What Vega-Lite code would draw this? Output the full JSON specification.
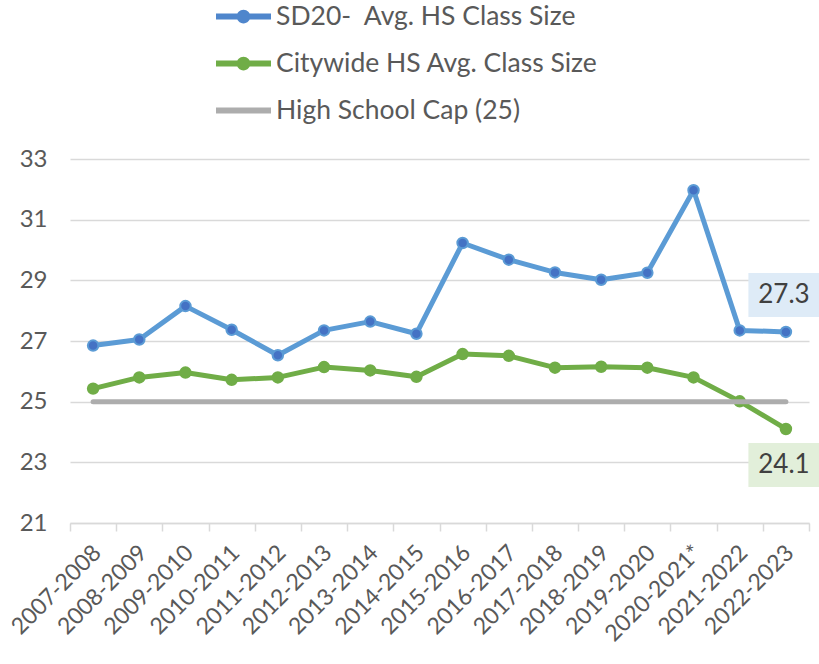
{
  "$schema": "https://vega.github.io/schema/vega-lite/v6.json",
  "width": 739,
  "height": 364,
  "autosize": {"type": "none"},
  "padding": {"left": 70, "top": 159, "right": 10, "bottom": 141},
  "background": "white",
  "config": {"view": {"stroke": null}, "font": "Lato"},
  "datasets": {
    "series": [
      {"year": "2007-2008", "series": "SD20- \u00a0Avg. HS Class Size", "value": 26.85},
      {"year": "2008-2009", "series": "SD20- \u00a0Avg. HS Class Size", "value": 27.05},
      {"year": "2009-2010", "series": "SD20- \u00a0Avg. HS Class Size", "value": 28.15},
      {"year": "2010-2011", "series": "SD20- \u00a0Avg. HS Class Size", "value": 27.37},
      {"year": "2011-2012", "series": "SD20- \u00a0Avg. HS Class Size", "value": 26.53},
      {"year": "2012-2013", "series": "SD20- \u00a0Avg. HS Class Size", "value": 27.35},
      {"year": "2013-2014", "series": "SD20- \u00a0Avg. HS Class Size", "value": 27.64},
      {"year": "2014-2015", "series": "SD20- \u00a0Avg. HS Class Size", "value": 27.24},
      {"year": "2015-2016", "series": "SD20- \u00a0Avg. HS Class Size", "value": 30.23},
      {"year": "2016-2017", "series": "SD20- \u00a0Avg. HS Class Size", "value": 29.68},
      {"year": "2017-2018", "series": "SD20- \u00a0Avg. HS Class Size", "value": 29.26},
      {"year": "2018-2019", "series": "SD20- \u00a0Avg. HS Class Size", "value": 29.02},
      {"year": "2019-2020", "series": "SD20- \u00a0Avg. HS Class Size", "value": 29.25},
      {"year": "2020-2021*", "series": "SD20- \u00a0Avg. HS Class Size", "value": 31.97},
      {"year": "2021-2022", "series": "SD20- \u00a0Avg. HS Class Size", "value": 27.35},
      {"year": "2022-2023", "series": "SD20- \u00a0Avg. HS Class Size", "value": 27.3},
      {"year": "2007-2008", "series": "Citywide HS Avg. Class Size", "value": 25.43},
      {"year": "2008-2009", "series": "Citywide HS Avg. Class Size", "value": 25.8},
      {"year": "2009-2010", "series": "Citywide HS Avg. Class Size", "value": 25.96},
      {"year": "2010-2011", "series": "Citywide HS Avg. Class Size", "value": 25.72},
      {"year": "2011-2012", "series": "Citywide HS Avg. Class Size", "value": 25.8},
      {"year": "2012-2013", "series": "Citywide HS Avg. Class Size", "value": 26.14},
      {"year": "2013-2014", "series": "Citywide HS Avg. Class Size", "value": 26.03},
      {"year": "2014-2015", "series": "Citywide HS Avg. Class Size", "value": 25.82},
      {"year": "2015-2016", "series": "Citywide HS Avg. Class Size", "value": 26.57},
      {"year": "2016-2017", "series": "Citywide HS Avg. Class Size", "value": 26.51},
      {"year": "2017-2018", "series": "Citywide HS Avg. Class Size", "value": 26.12},
      {"year": "2018-2019", "series": "Citywide HS Avg. Class Size", "value": 26.15},
      {"year": "2019-2020", "series": "Citywide HS Avg. Class Size", "value": 26.12},
      {"year": "2020-2021*", "series": "Citywide HS Avg. Class Size", "value": 25.8},
      {"year": "2021-2022", "series": "Citywide HS Avg. Class Size", "value": 25.01},
      {"year": "2022-2023", "series": "Citywide HS Avg. Class Size", "value": 24.1},
      {"year": "2007-2008", "series": "High School Cap (25)", "value": 25},
      {"year": "2008-2009", "series": "High School Cap (25)", "value": 25},
      {"year": "2009-2010", "series": "High School Cap (25)", "value": 25},
      {"year": "2010-2011", "series": "High School Cap (25)", "value": 25},
      {"year": "2011-2012", "series": "High School Cap (25)", "value": 25},
      {"year": "2012-2013", "series": "High School Cap (25)", "value": 25},
      {"year": "2013-2014", "series": "High School Cap (25)", "value": 25},
      {"year": "2014-2015", "series": "High School Cap (25)", "value": 25},
      {"year": "2015-2016", "series": "High School Cap (25)", "value": 25},
      {"year": "2016-2017", "series": "High School Cap (25)", "value": 25},
      {"year": "2017-2018", "series": "High School Cap (25)", "value": 25},
      {"year": "2018-2019", "series": "High School Cap (25)", "value": 25},
      {"year": "2019-2020", "series": "High School Cap (25)", "value": 25},
      {"year": "2020-2021*", "series": "High School Cap (25)", "value": 25},
      {"year": "2021-2022", "series": "High School Cap (25)", "value": 25},
      {"year": "2022-2023", "series": "High School Cap (25)", "value": 25}
    ],
    "labels": [
      {"year": "2022-2023", "series": "SD20- \u00a0Avg. HS Class Size", "value": 27.3, "label": "27.3"},
      {"year": "2022-2023", "series": "Citywide HS Avg. Class Size", "value": 24.1, "label": "24.1"}
    ]
  },
  "data": {"name": "series"},
  "encoding": {
    "x": {
      "field": "year",
      "type": "nominal",
      "scale": {
        "type": "band",
        "paddingInner": 0,
        "paddingOuter": 0,
        "domain": ["2007-2008", "2008-2009", "2009-2010", "2010-2011", "2011-2012", "2012-2013", "2013-2014", "2014-2015", "2015-2016", "2016-2017", "2017-2018", "2018-2019", "2019-2020", "2020-2021*", "2021-2022", "2022-2023"]
      },
      "axis": {
        "title": null,
        "labelAngle": -45,
        "tickBand": "extent",
        "ticks": true,
        "tickSize": 8,
        "tickColor": "#D9D9D9",
        "tickWidth": 1.5,
        "domainColor": "#D9D9D9",
        "domainWidth": 1.5,
        "labelFontSize": 23,
        "labelColor": "#595959",
        "labelPadding": 10,
        "labelOffset": -4,
        "grid": false
      }
    },
    "y": {
      "field": "value",
      "type": "quantitative",
      "scale": {"domain": [21, 33], "nice": false, "zero": false},
      "axis": {
        "title": null,
        "values": [21, 23, 25, 27, 29, 31, 33],
        "domain": false,
        "ticks": false,
        "grid": true,
        "gridColor": "#D9D9D9",
        "gridWidth": 1.5,
        "labelFontSize": 24,
        "labelColor": "#595959",
        "labelPadding": 23
      }
    }
  },
  "layer": [
    {
      "transform": [{"filter": "datum.series !== 'High School Cap (25)'"}],
      "mark": {"type": "line", "strokeWidth": 5, "strokeCap": "round", "strokeJoin": "round"},
      "encoding": {
        "color": {
          "field": "series",
          "type": "nominal",
          "scale": {
            "domain": ["SD20- \u00a0Avg. HS Class Size", "Citywide HS Avg. Class Size", "High School Cap (25)"],
            "range": ["#5B9BD5", "#70AD47", "#ADADAD"]
          },
          "legend": {
            "title": null,
            "orient": "none",
            "direction": "vertical",
            "legendX": 146,
            "legendY": -170,
            "padding": 0,
            "symbolType": "M-1,-0.11H1V0.11H-1Z M0,-0.25A0.25,0.25 0 1,1 0,0.25A0.25,0.25 0 1,1 0,-0.25Z",
            "symbolSize": 3025,
            "symbolStrokeWidth": 0,
            "labelFontSize": 26.5,
            "labelColor": "#595959",
            "labelOffset": 5,
            "labelLimit": 0,
            "rowPadding": 6,
            "encode": {
              "symbols": {
                "update": {
                  "shape": {"signal": "datum.value === 'High School Cap (25)' ? 'M-1,-0.11H1V0.11H-1Z' : 'M-1,-0.11H1V0.11H-1Z M0,-0.25A0.25,0.25 0 1,1 0,0.25A0.25,0.25 0 1,1 0,-0.25Z'"},
                  "fill": {"signal": "datum.value === 'High School Cap (25)' ? '#ADADAD' : datum.value === 'Citywide HS Avg. Class Size' ? '#70AD47' : '#4F86CC'"},
                  "strokeWidth": {"value": 0},
                  "opacity": {"value": 1}
                }
              }
            }
          }
        }
      }
    },
    {
      "transform": [{"filter": "datum.series !== 'High School Cap (25)'"}],
      "mark": {"type": "point", "filled": true, "size": 110, "strokeWidth": 2, "opacity": 1},
      "encoding": {
        "fill": {
          "field": "series",
          "type": "nominal",
          "scale": {"domain": ["SD20- \u00a0Avg. HS Class Size", "Citywide HS Avg. Class Size"], "range": ["#4472C4", "#70AD47"]},
          "legend": null
        },
        "stroke": {
          "field": "series",
          "type": "nominal",
          "scale": {"domain": ["SD20- \u00a0Avg. HS Class Size", "Citywide HS Avg. Class Size"], "range": ["#5B9BD5", "#70AD47"]},
          "legend": null
        }
      }
    },
    {
      "transform": [{"filter": "datum.series === 'High School Cap (25)'"}],
      "mark": {"type": "line", "strokeWidth": 5, "strokeCap": "round"},
      "encoding": {
        "color": {"field": "series", "type": "nominal"}
      }
    },
    {
      "data": {"name": "labels"},
      "transform": [{"filter": "datum.label === '27.3'"}],
      "mark": {"type": "point", "shape": "M-1,-0.62H1V0.62H-1Z", "size": 5041, "filled": true, "fill": "#DEEBF7", "opacity": 1, "strokeWidth": 0, "yOffset": -37, "xOffset": -2}
    },
    {
      "data": {"name": "labels"},
      "transform": [{"filter": "datum.label === '27.3'"}],
      "mark": {"type": "text", "fontSize": 26, "color": "#404040", "align": "center", "baseline": "middle", "yOffset": -37, "xOffset": -2},
      "encoding": {"text": {"field": "label"}}
    },
    {
      "data": {"name": "labels"},
      "transform": [{"filter": "datum.label === '24.1'"}],
      "mark": {"type": "point", "shape": "M-1,-0.62H1V0.62H-1Z", "size": 5041, "filled": true, "fill": "#E2EFDA", "opacity": 1, "strokeWidth": 0, "yOffset": 36, "xOffset": -2}
    },
    {
      "data": {"name": "labels"},
      "transform": [{"filter": "datum.label === '24.1'"}],
      "mark": {"type": "text", "fontSize": 26, "color": "#404040", "align": "center", "baseline": "middle", "yOffset": 36, "xOffset": -2},
      "encoding": {"text": {"field": "label"}}
    }
  ]
}
